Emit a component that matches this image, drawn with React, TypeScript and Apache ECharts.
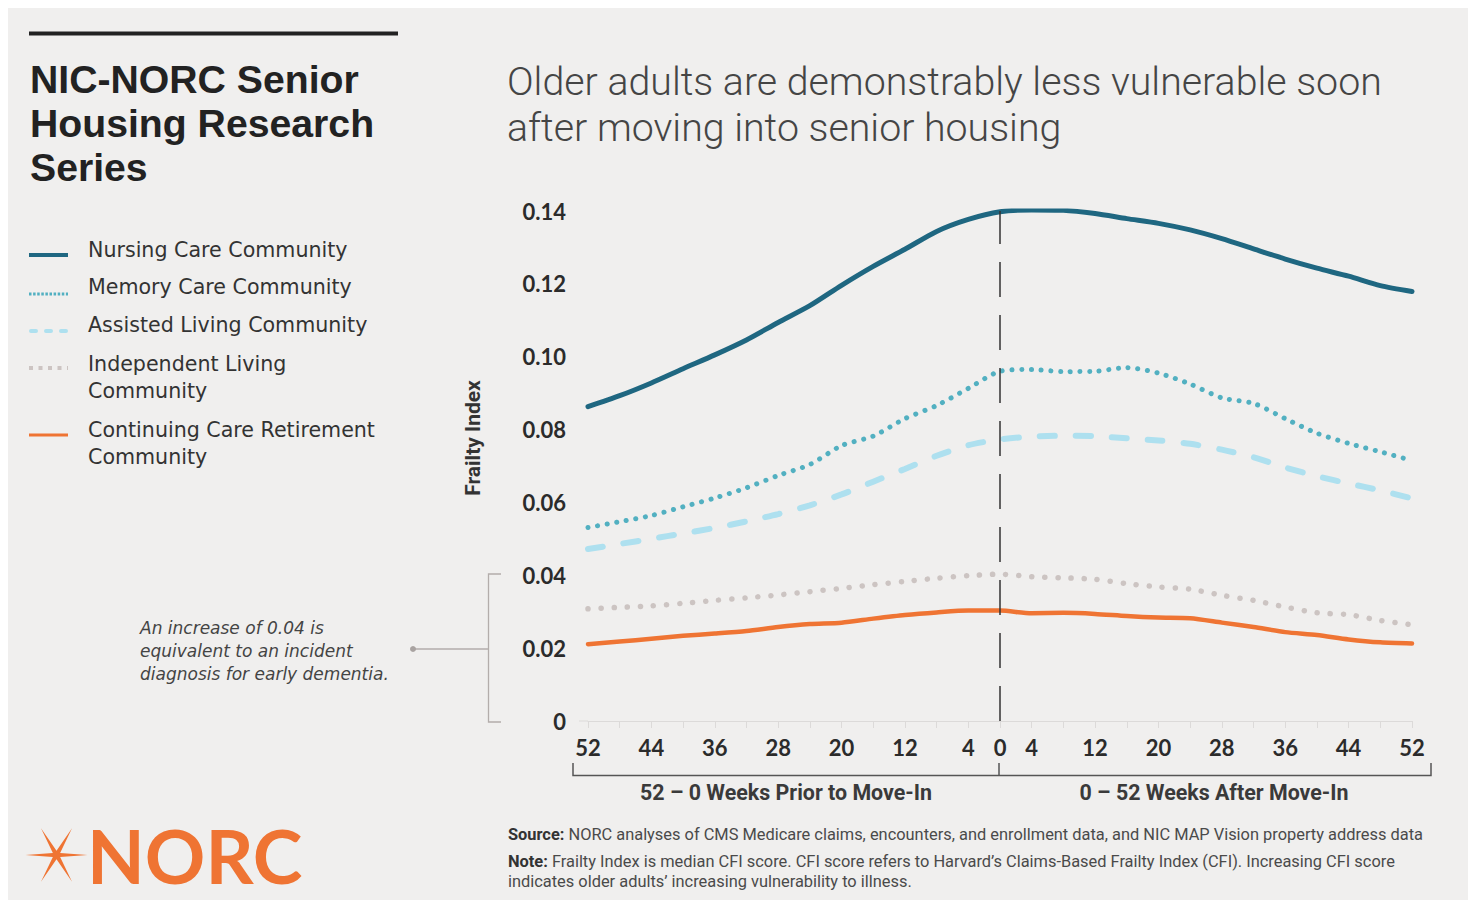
import React, { useEffect, useRef } from "react";
import * as echarts from "echarts";

// ---- Data (weeks relative to move-in; negative = before) ----
const weeks = [-52, -48, -44, -40, -36, -32, -28, -24, -20, -16, -12, -8, -4, 0, 4, 8, 12, 16, 20, 24, 28, 32, 36, 40, 44, 48, 52];
const nursing = [0.0863, 0.0893, 0.0928, 0.0967, 0.1005, 0.1046, 0.1094, 0.114, 0.1196, 0.1248, 0.1295, 0.1344, 0.1377, 0.1398, 0.1403, 0.1402, 0.1393, 0.1379, 0.1366, 0.1348, 0.1324, 0.1296, 0.1268, 0.1243, 0.1221, 0.1195, 0.1179];
const memory = [0.0531, 0.0547, 0.0564, 0.0588, 0.0612, 0.064, 0.0674, 0.0704, 0.0756, 0.0782, 0.083, 0.0866, 0.0913, 0.096, 0.0965, 0.0959, 0.096, 0.097, 0.0955, 0.0925, 0.0887, 0.0872, 0.083, 0.079, 0.0762, 0.0739, 0.0715];
const assisted = [0.0472, 0.0486, 0.05, 0.0515, 0.053, 0.0548, 0.0568, 0.0592, 0.0622, 0.0657, 0.0692, 0.0728, 0.0757, 0.0773, 0.0781, 0.0783, 0.0782, 0.0776, 0.077, 0.0761, 0.0745, 0.0724, 0.0696, 0.0672, 0.0652, 0.0633, 0.0611];
const independent = [0.0308, 0.0312, 0.0316, 0.0323, 0.0331, 0.0338, 0.0346, 0.0355, 0.0364, 0.0374, 0.0383, 0.0392, 0.0399, 0.0403, 0.0396, 0.0393, 0.0389, 0.0377, 0.0368, 0.0362, 0.0345, 0.0331, 0.0313, 0.0297, 0.0292, 0.0276, 0.0264];
const ccrc = [0.0211, 0.0218, 0.0226, 0.0234, 0.024, 0.0247, 0.0258, 0.0266, 0.027, 0.0281, 0.0291, 0.0298, 0.0303, 0.0303, 0.0296, 0.0297, 0.0294, 0.0288, 0.0284, 0.0282, 0.027, 0.0258, 0.0244, 0.0236, 0.0224, 0.0216, 0.0213];

const seriesNames = [
  "Nursing Care Community",
  "Memory Care Community",
  "Assisted Living Community",
  "Independent Living Community",
  "Continuing Care Retirement Community",
];
const xTickLabels = [52, 44, 36, 28, 20, 12, 4, 0];
const yTicks = [0, 0.02, 0.04, 0.06, 0.08, 0.1, 0.12, 0.14];

const C_NURS = "#1F6781";
const C_MEM = "#52B0C1";
const C_ASST = "#AEE0EF";
const C_IND = "#CCC4C2";
const C_CCRC = "#EF7433";
const BG = "#F0EFEE";
const TXT = "#2B2B2B";

const O = 8; // page offset of chart div (body margin)
const px = (v: number) => v - O;

const pair = (arr: number[]) => weeks.map((w, i) => [w, arr[i]]);

function starPoints(cx: number, cy: number, ro: number, ri: number) {
  const pts: number[][] = [];
  for (let k = 0; k < 12; k++) {
    const a = (k * Math.PI) / 6;
    const r = k % 2 === 0 ? ro : ri;
    pts.push([cx + r * Math.cos(a), cy - r * Math.sin(a)]);
  }
  return pts;
}

export default function App() {
  const ref = useRef<HTMLDivElement>(null);
  useEffect(() => {
    if (!ref.current) return;
    const chart = echarts.init(ref.current, null, { renderer: "svg", width: 1460, height: 892 });
    const font = "Lato";
    const body = "DejaVu Sans";
    // legend lines: [text, centre y]
    const legendLines: [string, number][] = [
      ["Nursing Care Community", 250],
      ["Memory Care Community", 287],
      ["Assisted Living Community", 325],
      ["Independent Living", 364],
      ["Community", 391],
      ["Continuing Care Retirement", 430],
      ["Community", 457],
    ];
    const noteLines = ["An increase of 0.04 is", "equivalent to an incident", "diagnosis for early dementia."];
    const legendIcons: any[] = [
      { shape: { x1: px(29), y1: px(255), x2: px(68), y2: px(255) }, style: { stroke: C_NURS, lineWidth: 4 } },
      { shape: { x1: px(29), y1: px(294), x2: px(68), y2: px(294) }, style: { stroke: C_MEM, lineWidth: 3, lineDash: [2.5, 1.6] } },
      { shape: { x1: px(31), y1: px(331), x2: px(66), y2: px(331) }, style: { stroke: C_ASST, lineWidth: 4, lineDash: [5, 10], lineCap: "round" } },
      { shape: { x1: px(29), y1: px(368), x2: px(68), y2: px(368) }, style: { stroke: C_IND, lineWidth: 4, lineDash: [4, 5.5] } },
      { shape: { x1: px(29), y1: px(435), x2: px(68), y2: px(435) }, style: { stroke: C_CCRC, lineWidth: 3 } },
    ];
    const titleLines = ["NIC-NORC Senior", "Housing Research", "Series"];
    const headLines = ["Older adults are demonstrably less vulnerable soon", "after moving into senior housing"];

    const graphic: any[] = [
      // top rule
      { type: "line", shape: { x1: px(29), y1: px(33.5), x2: px(398), y2: px(33.5) }, style: { stroke: "#222", lineWidth: 4 } },
      // series title
      ...titleLines.map((t, i) => ({
        type: "text",
        x: px(30),
        y: px(79 + i * 44),
        style: { text: t, fontFamily: "Liberation Sans", fontWeight: "bold", fontSize: 39.2, lineHeight: 44, fill: "#222", verticalAlign: "middle" },
      })),
      // headline
      ...headLines.map((t, i) => ({
        type: "text",
        x: px(507),
        y: px(82 + i * 46),
        style: { text: t, fontFamily: "Roboto", fontWeight: 300, fontSize: 39.3, lineHeight: 46, fill: "#454545", verticalAlign: "middle" },
      })),
      // legend
      ...legendIcons.map((g) => ({ type: "line", ...g })),
      ...legendLines.map(([t, y]) => ({
        type: "text",
        x: px(88),
        y: px(y),
        style: { text: t, fontFamily: body, fontSize: 20.6, lineHeight: 26, fill: "#333", verticalAlign: "middle" },
      })),
      // annotation
      ...noteLines.map((t, i) => ({
        type: "text",
        x: px(140),
        y: px(628 + i * 23),
        style: { text: t, fontFamily: body, fontStyle: "italic", fontSize: 17, lineHeight: 21, fill: "#444", verticalAlign: "middle" },
      })),
      { type: "polyline", shape: { points: [[px(501), px(574)], [px(488.5), px(574)], [px(488.5), px(722)], [px(501), px(722)]] }, style: { stroke: "#B3ADAB", lineWidth: 1.3, fill: null } },
      { type: "line", shape: { x1: px(413), y1: px(649), x2: px(488.5), y2: px(649) }, style: { stroke: "#B3ADAB", lineWidth: 1.3 } },
      { type: "circle", shape: { cx: px(413), cy: px(649), r: 3 }, style: { fill: "#A9A3A1" } },
      // y axis title
      {
        type: "text",
        x: px(473),
        y: px(438),
        rotation: Math.PI / 2,
        style: { text: "Frailty Index", fontFamily: "Roboto", fontWeight: "bold", fontSize: 21, fill: "#333", align: "center", verticalAlign: "middle" },
      },
      // axis line extension on the left
      { type: "line", shape: { x1: px(579), y1: px(721), x2: px(588), y2: px(721) }, style: { stroke: "#DCDAD9", lineWidth: 1 } },
      // bottom brackets
      { type: "polyline", shape: { points: [[px(573), px(763)], [px(573), px(775.5)], [px(1431), px(775.5)], [px(1431), px(763)]] }, style: { stroke: "#555", lineWidth: 1.5, fill: null } },
      { type: "line", shape: { x1: px(999), y1: px(763), x2: px(999), y2: px(775.5) }, style: { stroke: "#555", lineWidth: 1.5 } },
      {
        type: "text",
        x: px(786),
        y: px(792),
        style: { text: "52 – 0 Weeks Prior to Move-In", fontFamily: "Roboto", fontWeight: "bold", fontSize: 21.4, fill: "#3A3A3A", align: "center", verticalAlign: "middle" },
      },
      {
        type: "text",
        x: px(1214),
        y: px(792),
        style: { text: "0 – 52 Weeks After Move-In", fontFamily: "Roboto", fontWeight: "bold", fontSize: 21.4, fill: "#3A3A3A", align: "center", verticalAlign: "middle" },
      },
      // footnotes
      {
        type: "text",
        x: px(508),
        y: px(834),
        style: {
          text: "{b|Source:} NORC analyses of CMS Medicare claims, encounters, and enrollment data, and NIC MAP Vision property address data",
          fontFamily: "Roboto",
          fontSize: 16.4,
          fill: "#4A4A4A",
          verticalAlign: "middle",
          rich: { b: { fontFamily: "Roboto", fontSize: 16.4, fontWeight: "bold", fill: "#333" } },
        },
      },
      {
        type: "text",
        x: px(508),
        y: px(861),
        style: {
          text: "{b|Note:} Frailty Index is median CFI score. CFI score refers to Harvard’s Claims-Based Frailty Index (CFI). Increasing CFI score",
          fontFamily: "Roboto",
          fontSize: 16.4,
          fill: "#4A4A4A",
          verticalAlign: "middle",
          rich: { b: { fontFamily: "Roboto", fontSize: 16.4, fontWeight: "bold", fill: "#333" } },
        },
      },
      {
        type: "text",
        x: px(508),
        y: px(881),
        style: { text: "indicates older adults’ increasing vulnerability to illness.", fontFamily: "Roboto", fontSize: 16.4, fill: "#4A4A4A", verticalAlign: "middle" },
      },
      // NORC logo
      { type: "polygon", shape: { points: starPoints(px(56.5), px(855), 31, 4.2) }, style: { fill: C_CCRC } },
      {
        type: "text",
        x: px(87),
        y: px(855),
        style: { text: "NORC", fontFamily: font, fontWeight: "bold", fontSize: 75, fill: C_CCRC, verticalAlign: "middle" },
      },
    ];

    const option: any = {
      animation: false,
      backgroundColor: BG,
      grid: { left: px(588), right: 56, top: px(211), bottom: 179, containLabel: false },
      xAxis: {
        type: "value",
        min: -52,
        max: 52,
        interval: 4,
        axisLine: { show: true, lineStyle: { color: "#DCDAD9", width: 1 } },
        axisTick: { show: true, length: 7, lineStyle: { color: "#DCDAD9" } },
        splitLine: { show: false },
        axisLabel: {
          margin: 15,
          color: TXT,
          fontFamily: font,
          fontWeight: "bold",
          fontSize: 22,
          formatter: (v: number) => (xTickLabels.includes(Math.abs(v)) ? String(Math.abs(v)) : ""),
        },
      },
      yAxis: {
        type: "value",
        min: 0,
        max: 0.14,
        interval: 0.02,
        axisLine: { show: false },
        axisTick: { show: false },
        splitLine: { show: false },
        axisLabel: {
          margin: 22,
          color: TXT,
          fontFamily: font,
          fontWeight: "bold",
          fontSize: 22,
          formatter: (v: number) => {
            const t = yTicks.find((y) => Math.abs(y - v) < 1e-9);
            const val = t === undefined ? v : t;
            return val === 0 ? "0" : val.toFixed(2);
          },
        },
      },
      graphic,
      series: [
        {
          name: seriesNames[4],
          type: "line",
          data: pair(ccrc),
          showSymbol: false,
          smooth: 0.25,
          lineStyle: { color: C_CCRC, width: 4.5, cap: "round", join: "round" },
        },
        {
          name: seriesNames[3],
          type: "line",
          data: pair(independent),
          showSymbol: false,
          smooth: 0.25,
          lineStyle: { color: C_IND, width: 5.5, type: [0.1, 13], cap: "round" },
        },
        {
          name: seriesNames[2],
          type: "line",
          data: pair(assisted),
          showSymbol: false,
          smooth: 0.25,
          lineStyle: { color: C_ASST, width: 6, type: [15, 21], cap: "round" },
        },
        {
          name: seriesNames[1],
          type: "line",
          data: pair(memory),
          showSymbol: false,
          smooth: 0.25,
          lineStyle: { color: C_MEM, width: 5, type: [0.1, 9.6], cap: "round" },
        },
        {
          name: seriesNames[0],
          type: "line",
          data: pair(nursing),
          showSymbol: false,
          smooth: 0.25,
          lineStyle: { color: C_NURS, width: 5, cap: "round", join: "round" },
          markLine: {
            silent: true,
            symbol: "none",
            label: { show: false },
            lineStyle: { color: "#333", width: 1.5, type: [35, 18] },
            data: [{ xAxis: 0 }],
          },
        },
      ],
    };
    chart.setOption(option);
    return () => chart.dispose();
  }, []);
  return (
    <div
      ref={ref}
      style={{ position: "absolute", left: 8, top: 8, width: 1460, height: 892, backgroundColor: BG }}
    />
  );
}
